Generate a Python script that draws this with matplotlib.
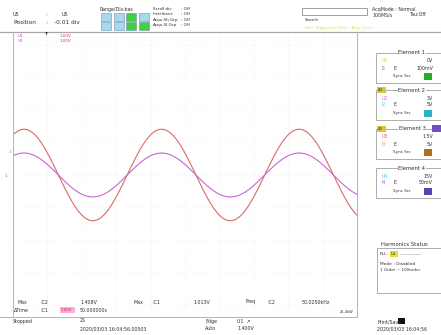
import numpy as np
import matplotlib
matplotlib.use("Agg")
import matplotlib.pyplot as plt
from matplotlib.patches import Rectangle
from matplotlib.lines import Line2D

W, H = 441, 335

# ---- scope readouts -------------------------------------------------------
trace_labels = ["C2", "C1"]
trace_peak_volts = [1.408, 1.013]
trace_volts_per_div = [1.0, 1.5]
trace_colors = ["#d96a6a", "#c865d8"]
signal_freq_khz = 50.0250
time_per_div_us = 5.0
n_hdiv = 10
peak_time_us = 1.6

measure_names = ["Max", "Max", "Freq"]
measure_sources = [":C2", ":C1", ":C2"]
measure_values = ["1.408V", "1.013V", "50.0250kHz"]

element_titles = ["Element 1", "Element 2", "Element 3", "Element 4"]
element_u_ranges = ["0V", "3V", "1.5V", "15V"]
element_i_ranges = ["100mV", "5V", "5V", "50mV"]
element_u_colors = ["#d8d040", "#d070e0", "#e06060", "#50c8e8"]
element_i_colors = ["#50b850", "#50d0f0", "#f0a050", "#9070e0"]
element_sync_colors = ["#20b020", "#30b0c8", "#b07020", "#6040b0"]

FS = 3.6
GRAY = "#b4b4b4"

fig = plt.figure(figsize=(W / 100, H / 100), dpi=100)
fig.patch.set_facecolor("white")


def P(x, y):
    return x / W, 1 - y / H


def T(x, y, s, color="#303030", size=FS, ha="left", **kw):
    fig.text(*P(x, y), s, color=color, fontsize=size, ha=ha, va="center", **kw)


def box(x0, y0, x1, y1, fc="none", ec=GRAY, lw=0.6):
    fig.patches.append(Rectangle(P(x0, y1), (x1 - x0) / W, (y1 - y0) / H,
                                 transform=fig.transFigure, fc=fc, ec=ec, lw=lw))


def line(xs, ys, color=GRAY, lw=0.7):
    fig.lines.append(Line2D([x / W for x in xs], [1 - y / H for y in ys],
                            transform=fig.transFigure, color=color, lw=lw))


# ---- waveform area --------------------------------------------------------
ax_l, ax_t, ax_r, ax_b = 13, 32, 357, 317
ax = fig.add_axes([ax_l / W, 1 - ax_b / H, (ax_r - ax_l) / W, (ax_b - ax_t) / H])
ax.set_xlim(0, n_hdiv * time_per_div_us)
ax.set_ylim(-4.37, 4.40)
for s in ax.spines.values():
    s.set_visible(False)
ax.set_xticks([])
ax.set_yticks([])
for k in range(1, n_hdiv):
    ax.axvline(k * time_per_div_us, color="#ececec", lw=0.5, ls=(0, (1, 2)), zorder=0)
for k in range(-4, 5):
    ax.axhline(k, color="#ececec", lw=0.5, ls=(0, (1, 2)), zorder=0)

t_us = np.linspace(0, n_hdiv * time_per_div_us, 1200)
f_per_us = signal_freq_khz / 1000.0
for peak, vpd, col in zip(trace_peak_volts, trace_volts_per_div, trace_colors):
    volts = peak * np.cos(2 * np.pi * f_per_us * (t_us - peak_time_us))
    ax.plot(t_us, volts / vpd, color=col, lw=0.8, zorder=3)

# frame lines
line([0, W], [32, 32], color="#a8a8a8", lw=0.9)
line([ax_l, ax_l], [32, 317])
line([ax_r, ax_r], [32, 317])
line([0, ax_r], [317, 317])

# level markers and trigger mark
T(9, 152, "2", color=trace_colors[1], size=3)
T(5, 176, "1", color="#a05050", size=3)
T(45, 34, "T", color="#202020", size=3.2, fontweight="bold")
T(18, 36, "U1", color="#d040c0", size=3)
T(18, 41, "U2", color="#d040c0", size=3)
T(60, 36, "1.00V", color="#e03060", size=3)
T(60, 41, "1.00V", color="#e03060", size=3)

# ---- header ---------------------------------------------------------------
T(13, 15, "U5")
T(45, 15, ":")
T(62, 15, "U5")
T(13, 23, "Position", size=4.2)
T(45, 23, ":", size=4.2)
T(54, 23, "-0.01 div", size=4.2)

T(100, 9, "Range/Div.bas", size=3.4)
box_fills = [("#a8d8f0", "#a8d8f0"), ("#a8d8f0", "#a8d8f0"),
             ("#40d040", "#40d040"), ("#a8d8f0", "#40d040")]
for i, (top, bot) in enumerate(box_fills):
    x0 = 101 + i * 12.5
    box(x0, 13, x0 + 10, 21, fc=top, ec="#7090b0", lw=0.4)
    box(x0, 21.5, x0 + 10, 30, fc=bot, ec="#7090b0", lw=0.4)

for j, name in enumerate(["Scroll div", "Interleave", "Acqu.Sh.Grp", "Acqu.Sl.Grp"]):
    T(153, 9 + j * 5.3, name, size=3.0)
    T(181, 9 + j * 5.3, ": Off", size=3.0)

box(302, 8, 367, 15, ec="#909090", lw=0.6)
T(305, 20, "Search", size=3.0)
T(305, 28, "Run Triggered Click : Acq Cycle", color="#e8e040", size=3.2)
T(372, 9, "AcqMode : Normal", size=3.4)
T(372, 15, "100MS/s", size=3.4)
T(410, 15, "Tau:Off", size=3.4)

# ---- element panels -------------------------------------------------------
tops = [53, 90, 129, 168]
for i, top in enumerate(tops):
    bot = top + 30
    box(376, top, 446, bot, ec="#a0a0a0", lw=0.6)
    T(412, top, element_titles[i], size=3.8, ha="center",
      bbox=dict(fc="white", ec="none", pad=0.3))
    if i in (1, 2):
        box(377, top - 3, 386, top + 3, fc="#d8c838", ec="none")
        T(378, top, "ΔU", size=2.6)
    if i == 2:
        box(432, top - 4, 442, top + 3, fc="#7050c0", ec="none")
    T(382, top + 8, "U%d" % (i + 1), color=element_u_colors[i], size=3.4)
    T(433, top + 8, element_u_ranges[i], size=3.4, ha="right")
    T(382, top + 15, "I%d" % (i + 1), color=element_i_colors[i], size=3.4)
    T(394, top + 15, "E", size=3.4)
    T(433, top + 15, element_i_ranges[i], size=3.4, ha="right")
    T(393, top + 23, "Sync Src", size=3.0)
    box(424, top + 20, 432, top + 27, fc=element_sync_colors[i], ec="none")

# harmonics status
T(381, 244, "Harmonics Status", size=3.8)
box(377, 248, 446, 293, ec="#a0a0a0", lw=0.6)
T(380, 254, "PLL:", size=3.2)
box(390, 251, 398, 257, fc="#e8e030", ec="none")
T(391, 254, "U1", size=2.8)
line([400, 420], [254, 254], color="#c0c0c0", lw=0.5)
T(380, 264, "Mode : Disabled", size=3.2)
T(380, 270, "1 Order ~ 100order", size=3.0)

# ---- measurements ---------------------------------------------------------
mx = [(18, 40, 80), (133, 152, 193), (245, 267, 302)]
for (xn, xs, xv), n, s, v in zip(mx, measure_names, measure_sources, measure_values):
    T(xn, 302, n, size=3.4)
    T(xs, 302, s, size=3.4)
    T(xv, 302, v, size=3.4)
T(14, 310, "ΔTime", size=3.4)
T(40, 310, ":C1", size=3.4)
box(60, 307, 75, 313, fc="#f8b0d8", ec="none")
T(61, 310, "1.00V", color="#e02050", size=2.8)
T(80, 310, "50.000000s", size=3.4)
T(340, 312, "25.4kW", size=2.6)

# ---- status line ----------------------------------------------------------
T(13, 321, "Stopped", size=3.4)
T(80, 321, "2S", size=3.4)
T(80, 329, "2020/03/03 16:04:56.00503", size=3.4)
T(205, 321, "Edge", size=3.4)
T(205, 329, "Auto", size=3.4)
T(237, 321, "U1  ↗", size=3.4)
T(237, 329, "1.400V", size=3.4)
T(377, 322, "Print/Save", size=3.4)
box(398, 318, 405, 324, fc="#101010", ec="none")
T(377, 329, "2020/03/03 16:04:56", size=3.4)

fig.savefig("out.png", dpi=100, facecolor="white")
